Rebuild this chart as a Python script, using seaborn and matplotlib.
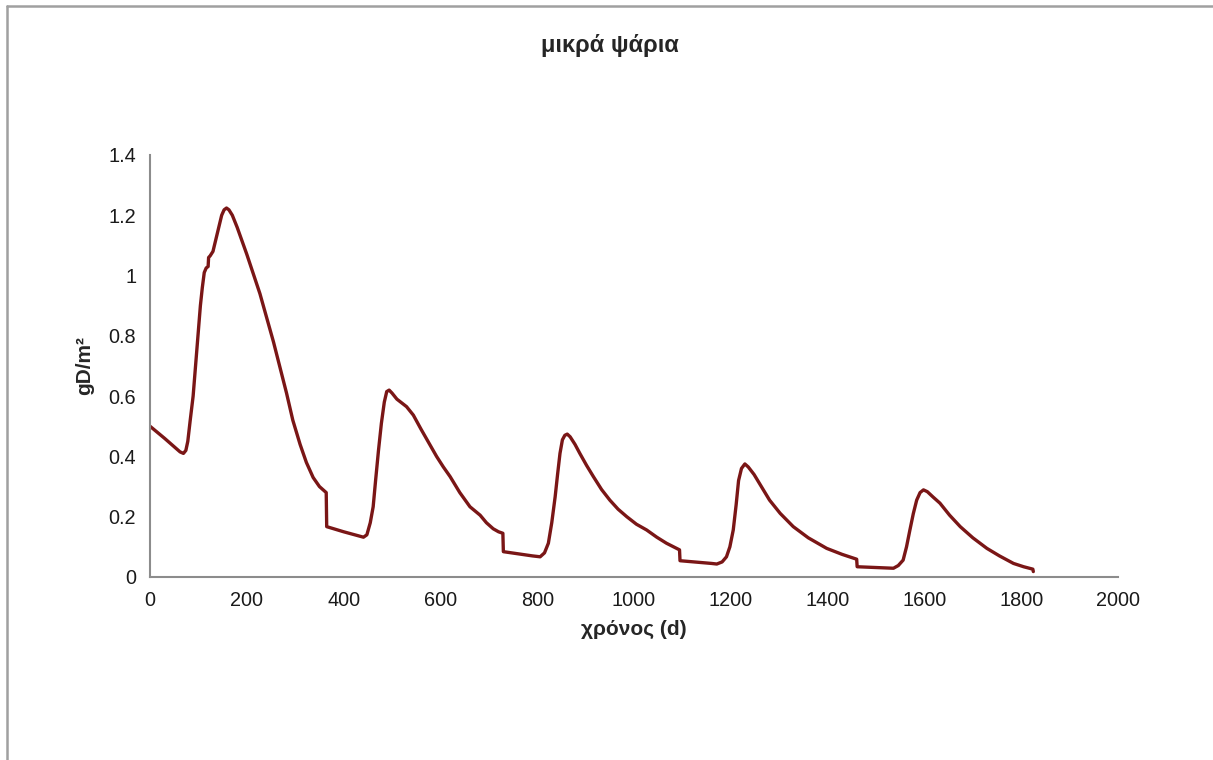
import pandas as pd
import matplotlib
matplotlib.use('Agg')
import matplotlib.pyplot as plt
import seaborn as sns
from matplotlib.lines import Line2D

# Valores (días, gD/m2)
dias = [0, 30, 55, 62, 69, 74, 78, 83, 89, 95, 100, 104, 108, 112, 116, 120,
        121, 124, 130, 136, 142, 148, 153, 158, 163, 170, 180, 200, 227, 255,
        282, 295, 310, 323, 337, 350, 364,
        365, 400, 430, 441, 448, 455, 461, 466, 472, 478, 484, 489, 494, 500,
        510, 530, 544, 560, 576, 592, 606, 620, 640, 661, 682, 695, 709, 720, 729,
        730, 790, 806, 815, 823, 830, 837, 842, 847, 852, 857, 862, 868, 878,
        888, 902, 916, 933, 950, 967, 985, 1005, 1026, 1047, 1067, 1082, 1094,
        1095, 1160, 1171, 1182, 1191, 1198, 1205, 1211, 1216, 1222, 1229, 1236,
        1248, 1260, 1280, 1302, 1329, 1360, 1398, 1430, 1460,
        1461, 1520, 1536, 1546, 1556, 1563, 1570, 1577, 1584, 1591, 1598, 1606,
        1618, 1632, 1652, 1674, 1700, 1729, 1755, 1784, 1805, 1824, 1825]
biomasa = [0.50, 0.46, 0.425, 0.415, 0.41, 0.42, 0.45, 0.52, 0.60, 0.72, 0.82,
           0.90, 0.96, 1.01, 1.025, 1.03,
           1.06, 1.065, 1.08, 1.12, 1.16, 1.20, 1.218, 1.224, 1.218, 1.20, 1.16,
           1.07, 0.94, 0.78,
           0.61, 0.52, 0.44, 0.38, 0.33, 0.30, 0.28,
           0.167, 0.15, 0.137, 0.132, 0.14, 0.18, 0.233, 0.32, 0.42, 0.51, 0.58,
           0.615, 0.62, 0.61,
           0.59, 0.565, 0.537, 0.49, 0.445, 0.40, 0.365, 0.333, 0.28, 0.233,
           0.205, 0.18, 0.16, 0.15, 0.145,
           0.084, 0.07, 0.067, 0.08, 0.112, 0.18, 0.266, 0.34, 0.41, 0.455, 0.47,
           0.474, 0.465, 0.44,
           0.41, 0.37, 0.333, 0.29, 0.255, 0.225, 0.20, 0.175, 0.156, 0.132,
           0.112, 0.10, 0.09,
           0.054, 0.045, 0.043, 0.05, 0.067, 0.10, 0.156, 0.24, 0.32, 0.36,
           0.375, 0.365,
           0.34, 0.308, 0.255, 0.211, 0.167, 0.13, 0.095, 0.075, 0.059,
           0.034, 0.03, 0.029, 0.038, 0.056, 0.10, 0.156, 0.21, 0.255, 0.28,
           0.289, 0.283,
           0.265, 0.245, 0.205, 0.167, 0.13, 0.095, 0.07, 0.045, 0.034, 0.026, 0.018]

df = pd.DataFrame({'dias': dias, 'biomasa': biomasa})

sns.set_style('white')
plt.rcParams['font.family'] = ['Liberation Sans', 'DejaVu Sans']

fig = plt.figure(figsize=(12.13, 7.6), dpi=100)
ax = fig.add_axes([0.1237, 0.2408, 0.798, 0.5553])

sns.lineplot(data=df, x='dias', y='biomasa', ax=ax, color='#7a1616',
             linewidth=2.4, sort=False)

ax.set_xlim(0, 2000)
ax.set_ylim(0, 1.4)
ax.set_xticks(range(0, 2001, 200))
ax.set_yticks([0, 0.2, 0.4, 0.6, 0.8, 1, 1.2, 1.4])
ax.set_yticklabels(['0', '0.2', '0.4', '0.6', '0.8', '1', '1.2', '1.4'])

for s in ['top', 'right']:
    ax.spines[s].set_visible(False)
for s in ['left', 'bottom']:
    ax.spines[s].set_color('#8c8c8c')
    ax.spines[s].set_linewidth(1.5)
ax.tick_params(axis='both', direction='out', length=6, width=1.2, color='#8c8c8c',
               labelsize=14.3, labelcolor='#1a1a1a', pad=4)

ax.set_xlabel('χρόνος (d)', fontsize=15, fontweight='bold', labelpad=7)
ax.set_ylabel('gD/m²', fontsize=15, fontweight='bold', labelpad=10)
fig.text(0.503, 0.94, 'μικρά ψάρια', ha='center', va='center',
         fontsize=17, fontweight='bold')

# marco del gráfico
fig.add_artist(Line2D([0.0055, 1.0], [0.9915, 0.9915], transform=fig.transFigure,
                      color='#a0a0a0', linewidth=1.8))
fig.add_artist(Line2D([0.0055, 0.0055], [0.0, 0.9915], transform=fig.transFigure,
                      color='#a0a0a0', linewidth=1.8))

fig.savefig('out.png', dpi=100)
